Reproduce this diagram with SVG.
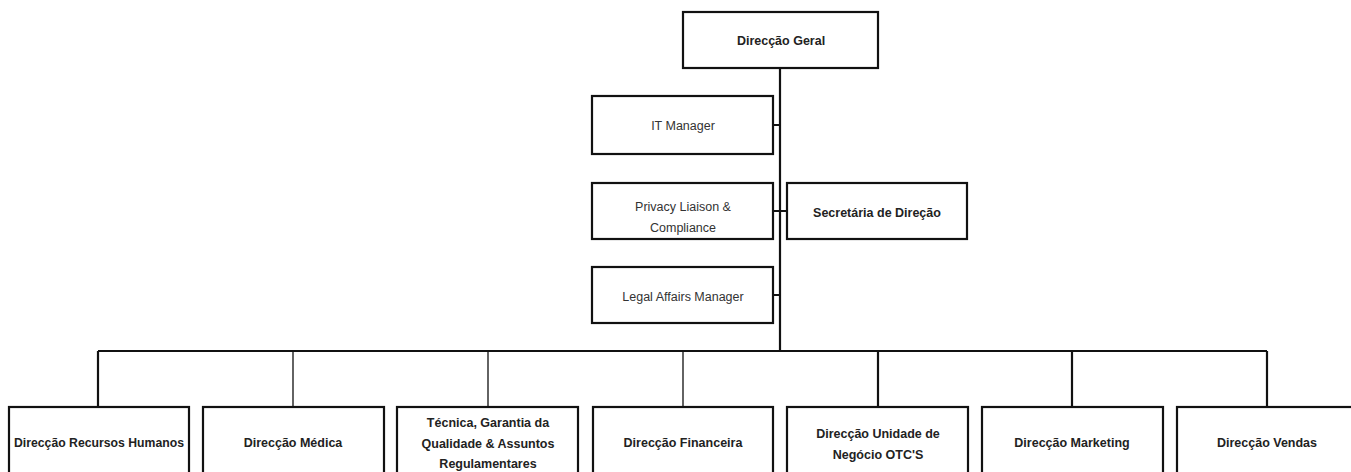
<svg xmlns="http://www.w3.org/2000/svg" width="1351" height="472" viewBox="0 0 1351 472">
<style>
.box{fill:#fff;stroke:#111;stroke-width:2.2}
.t{font-family:"Liberation Sans",Arial,sans-serif;font-size:12.5px;font-weight:bold;fill:#222;text-anchor:middle;dominant-baseline:central}
.s{font-weight:normal;fill:#333}
.c{stroke:#111;fill:none}
.th{stroke-width:2.2}
.tn{stroke-width:1.3}
</style>
<rect width="1351" height="472" fill="#fff"/>
<g id="connectors">
<path class="c th" d="M780 68V351"/>
<path class="c th" d="M773 125H780M773 211H787M773 295H780"/>
<path class="c th" d="M98 351H1267"/>
<path class="c th" d="M98 351V407M878 351V407M1072 351V407M1267 351V407"/>
<path class="c tn" d="M293 351V407M488 351V407M683 351V407"/>
</g>
<g id="n-geral"><rect class="box" x="683" y="12" width="195" height="56"/><text class="t" x="781" y="41">Direcção Geral</text></g>
<g id="n-it"><rect class="box" x="592" y="96" width="181" height="58"/><text class="t s" x="683" y="126">IT Manager</text></g>
<g id="n-privacy"><rect class="box" x="592" y="183" width="181" height="56"/><text class="t s" x="683" y="207">Privacy Liaison &amp;</text><text class="t s" x="683" y="228">Compliance</text></g>
<g id="n-secretaria"><rect class="box" x="787" y="183" width="180" height="56"/><text class="t" x="877" y="213">Secretária de Direção</text></g>
<g id="n-legal"><rect class="box" x="592" y="267" width="181" height="56"/><text class="t s" x="683" y="297">Legal Affairs Manager</text></g>
<g id="n-rh"><rect class="box" x="9" y="407" width="180" height="72"/><text class="t" x="99" y="443" textLength="170" lengthAdjust="spacingAndGlyphs">Direcção Recursos Humanos</text></g>
<g id="n-medica"><rect class="box" x="203" y="407" width="181" height="72"/><text class="t" x="293" y="443">Direcção Médica</text></g>
<g id="n-tecnica"><rect class="box" x="397" y="407" width="181" height="72"/><text class="t" x="488" y="423">Técnica, Garantia da</text><text class="t" x="488" y="444">Qualidade &amp; Assuntos</text><text class="t" x="488" y="464">Regulamentares</text></g>
<g id="n-financeira"><rect class="box" x="593" y="407" width="180" height="72"/><text class="t" x="683" y="443">Direcção Financeira</text></g>
<g id="n-otc"><rect class="box" x="787" y="407" width="181" height="72"/><text class="t" x="878" y="434">Direcção Unidade de</text><text class="t" x="878" y="455">Negócio OTC'S</text></g>
<g id="n-marketing"><rect class="box" x="982" y="407" width="181" height="72"/><text class="t" x="1072" y="443">Direcção Marketing</text></g>
<g id="n-vendas"><rect class="box" x="1177" y="407" width="181" height="72"/><text class="t" x="1267" y="443">Direcção Vendas</text></g>
</svg>
